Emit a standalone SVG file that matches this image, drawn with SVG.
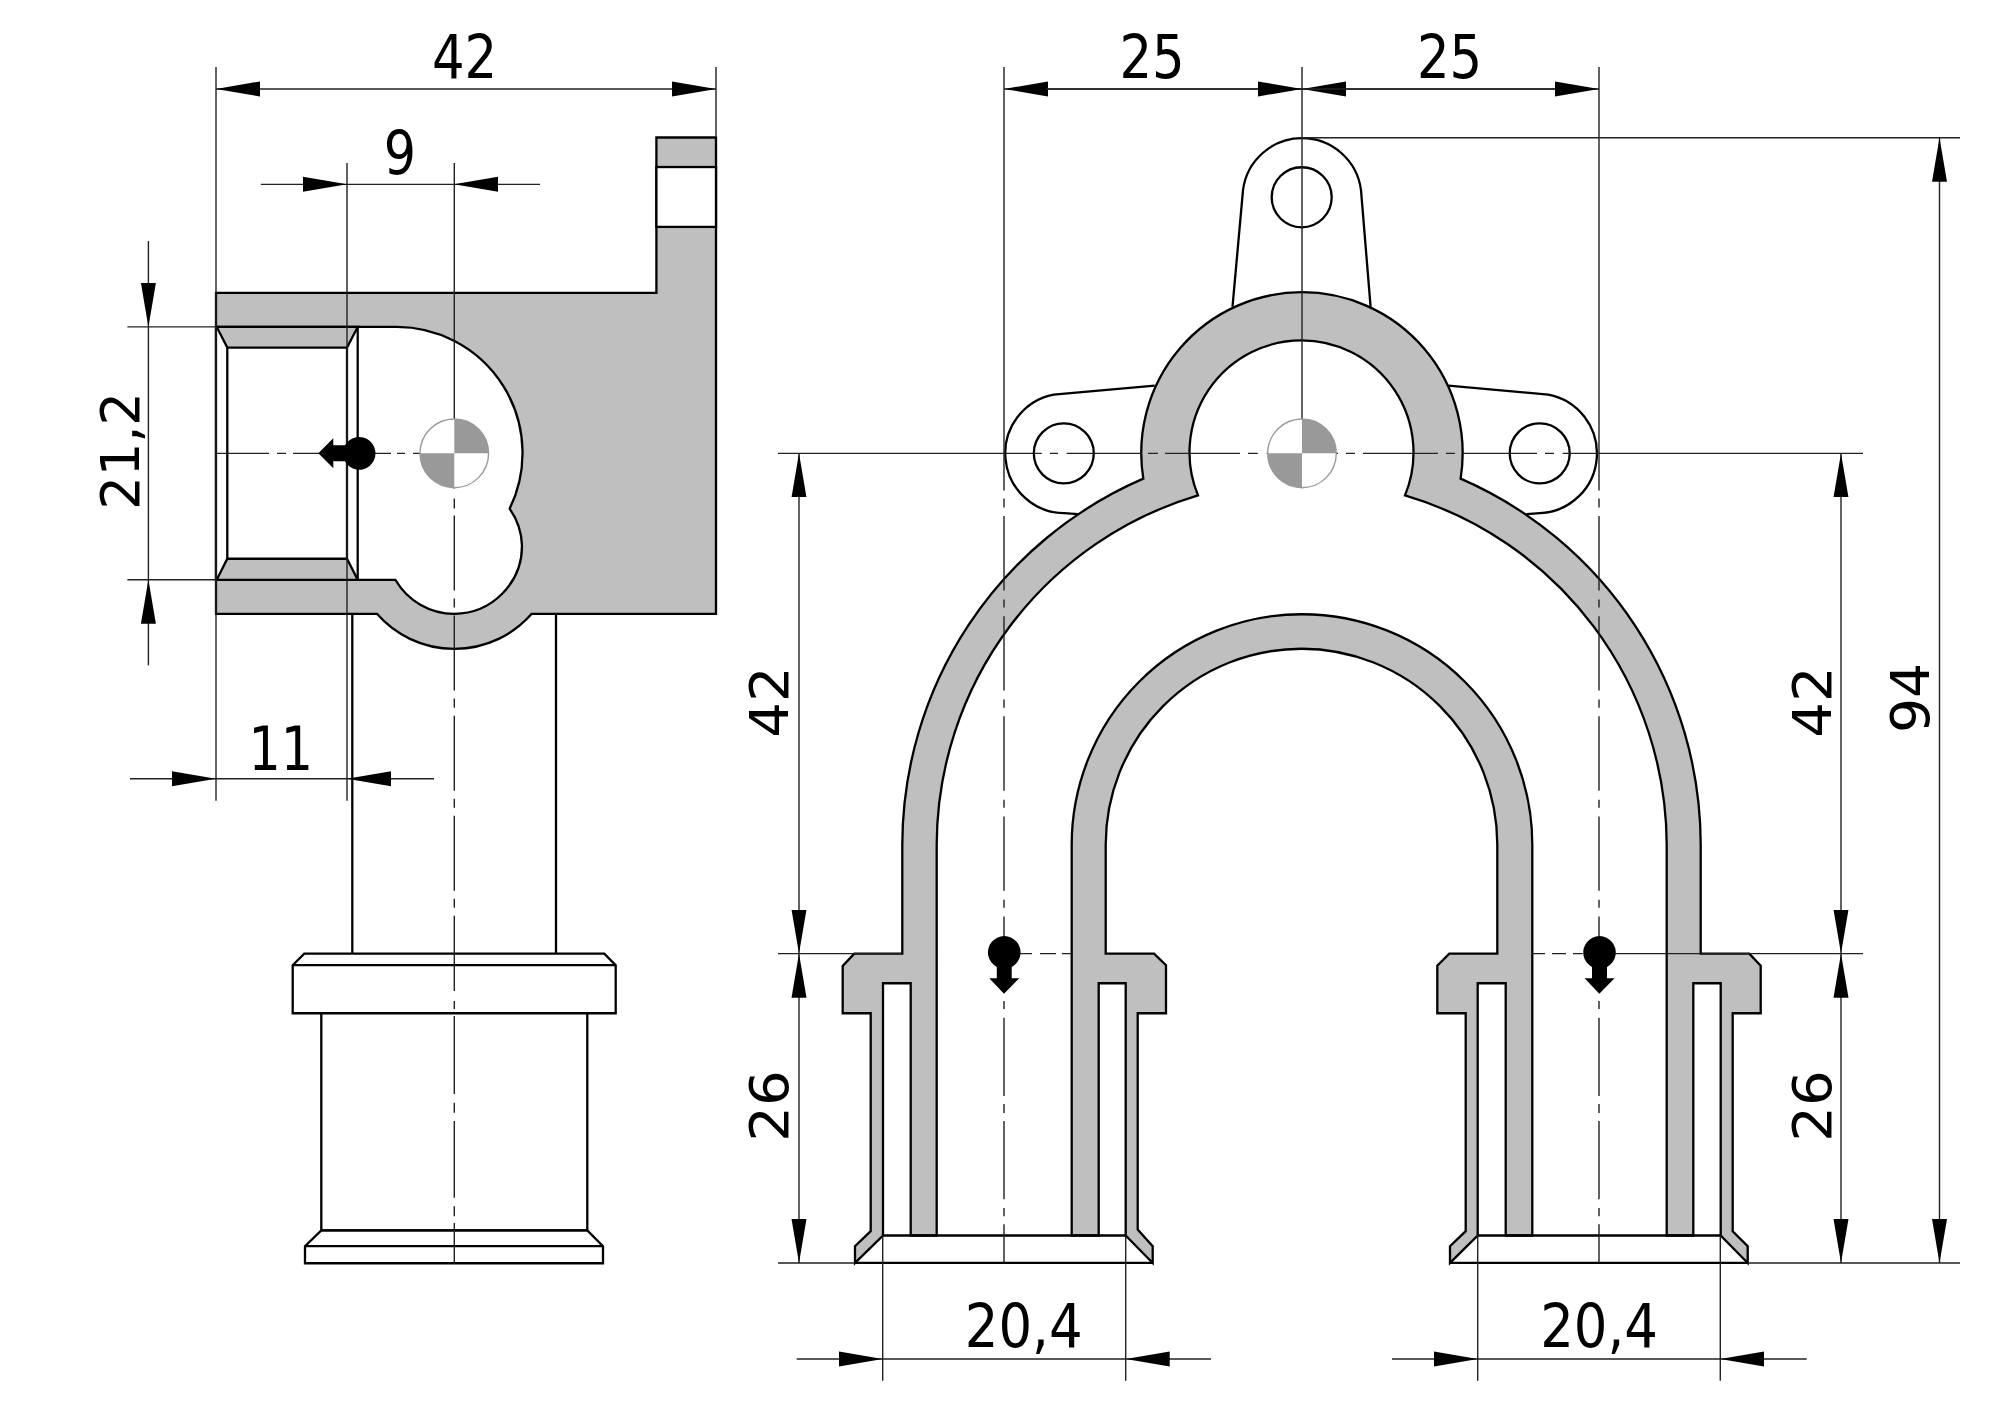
<svg xmlns="http://www.w3.org/2000/svg" width="2000" height="1414" viewBox="0 0 2000 1414">
<style>
.o{fill:none;stroke:#000;stroke-width:2.3;stroke-linejoin:miter}
.g{fill:#bfbfbf;stroke:#000;stroke-width:2.3;stroke-linejoin:miter}
.w{fill:#fff;stroke:#000;stroke-width:2.3;stroke-linejoin:miter}
.t{fill:none;stroke:#222;stroke-width:1.4}
.a{fill:none;stroke:#222;stroke-width:1.4;marker-end:url(#ar)}
.b{fill:none;stroke:#222;stroke-width:1.4;marker-start:url(#ar);marker-end:url(#ar)}
.c{fill:#fff;stroke:#999;stroke-width:1.4}
.q{fill:#999}
.k{fill:#000}
text{font-family:"DejaVu Sans Condensed","DejaVu Sans",sans-serif;font-stretch:condensed;font-size:60px;fill:#000;text-anchor:middle}
</style>
<defs>
<marker id="ar" markerUnits="userSpaceOnUse" markerWidth="46" markerHeight="18" refX="44" refY="8" orient="auto-start-reverse"><path d="M0,0.5 L44,8 L0,15.5 Z" fill="#000"/></marker>
<g id="cog"><circle class="c" cx="0" cy="0" r="34.3"/><path class="q" d="M0,0 V-34.3 A34.3,34.3 0 0 1 34.3,0 Z M0,0 V34.3 A34.3,34.3 0 0 1 -34.3,0 Z"/></g>
</defs>
<rect width="2000" height="1414" fill="#fff"/>
<g id="drawing" transform="translate(0,-0.15) scale(1,1.0011)">

<g id="side-view">
<path class="o" d="M352.3,613.3 V952.7 M556,613.3 V952.7"/>
<path class="g" d="M216,292.7 H656.4 V137.5 H716 V613.3 H531.7 A103,103 0 0 1 376.9,613.3 H216 Z"/>
<rect class="w" x="656.4" y="167" width="59.6" height="59.8"/>
<path class="w" d="M216,326.7 H396.7 A126,126 0 0 1 509.6,508.3 A68,68 0 0 1 522,545.3 A68,68 0 0 1 454.3,613.3 A68,68 0 0 1 395.4,579.3 H216 Z"/>
<path class="g" d="M216.7,326.7 H357.7 L347,347.3 H227.3 Z M227.3,558.3 H347 L357.7,579.3 H216.7 Z"/>
<path class="o" d="M227.3,347.3 V558.3 M347,347.3 V558.3 M357.7,326.7 V579.3"/>
<path class="w" d="M304.3,952.7 H604.3 L615.7,964.3 V1012.3 H292.7 V964.3 Z"/>
<path class="o" d="M292.7,964.3 H615.7"/>
<path class="w" d="M321.3,1012.3 H587.3 V1229.3 H321.3 Z"/>
<path class="w" d="M321.3,1229.3 H587.3 L603,1245 V1262 H305 V1245 Z"/>
<path class="o" d="M305,1245 H603"/>
</g>

<g id="front-view">
<g id="lugs">
<path class="w" d="M1232.5,306.7 L1243,190 A59.5,59.5 0 0 1 1361,190 L1370.6,306.7"/>
<circle class="o" cx="1301.7" cy="197.2" r="30"/>
<path class="w" d="M1154.7,385.3 L1053.7,394.3 A59.8,59.8 0 0 0 1064,512.8 L1078,513.7"/>
<circle class="o" cx="1063.8" cy="453" r="30"/>
<path class="w" d="M1448.5,385.3 L1548.2,394.3 A59.8,59.8 0 0 1 1540,512.8 L1526.3,513.7"/>
<circle class="o" cx="1539.7" cy="453" r="30"/>
</g>
<path id="outer-arch" class="g" d="M854.3,952.7 L842.7,965 V1012.3 H870.7 V1230 L855,1245 V1261.7 L883,1234.3 V982.3 H910.7 V1234.3 H936.7 V844 A365,365 0 0 1 1198,495 A112,112 0 1 1 1405,495 A365,365 0 0 1 1666.7,844 V1234.3 H1693.3 V982.3 H1720.7 V1234.3 L1747.7,1261.7 V1245 L1732.7,1230 V1012.3 H1760.7 V964.7 L1749.3,952.7 H1700.7 V844 A399,399 0 0 0 1460.6,478.3 A160.7,160.7 0 1 0 1143.3,478.3 A399,399 0 0 0 902.3,844 V952.7 Z"/>
<path id="inner-arch" class="g" d="M1154,952.7 L1166,964.3 V1012.3 H1137.7 V1228.3 L1152.7,1245 V1261.7 L1125.7,1234.3 V982.3 H1098.7 V1234.3 H1071.7 V844 A230.3,230.3 0 0 1 1532.3,844 V1234.3 H1505.7 V982.3 H1477.7 V1234.3 L1450,1261.7 V1245 L1465.7,1230 V1012.3 H1437.3 V964.7 L1449.3,952.7 H1497.3 V844 A195.6,195.6 0 0 0 1105.7,844 V952.7 Z"/>
<path class="o" d="M883,1234.3 H1125.7 M855,1261.7 H1152.7 M1477.7,1234.3 H1720.7 M1450,1261.7 H1747.7"/>
</g>

<g id="connectors">
<path class="t" d="M216,67 V800 M716,67 V137.5 M347,163 V800 M127.4,326.7 H216 M127.4,579.3 H216"/>
<path class="b" d="M216,89 H716"/>
<path class="t" d="M347,184.3 H454"/>
<path class="a" d="M260.8,184.3 H347"/>
<path class="a" d="M540,184.3 H454"/>
<path class="t" d="M148.4,326.7 V579.3"/>
<path class="a" d="M148.4,241 V326.7"/>
<path class="a" d="M148.4,664.8 V579.3"/>
<path class="t" d="M216,778 H347"/>
<path class="a" d="M130,778 H216"/>
<path class="a" d="M434,778 H347"/>
<path class="t" d="M454.3,163 V488 M454.3,498 V508 M454.3,515 V590 M454.3,598 V607 M454.3,615 V690 M454.3,698 V707 M454.3,715 V790 M454.3,798 V807 M454.3,815 V890 M454.3,898 V907 M454.3,915 V990 M454.3,1000 V1008 M454.3,1015 V1093 M454.3,1101.7 V1111.7 M454.3,1120 V1196.7 M454.3,1205 V1215 M454.3,1221.7 V1262"/>
<path class="t" d="M216,453 H269 M277,453 H286 M293,453 H391 M397,453 H405 M413,453 H454"/>

<path class="t" d="M1004,67 V490 M1004,498 V507 M1004,515.7 V590 M1004,599 V607 M1004,615.7 V690 M1004,699 V707 M1004,715.7 V790 M1004,799 V807 M1004,815.7 V890 M1004,899 V907 M1004,915.7 V950 M1004,1000 V1008 M1004,1016.7 V1095 M1004,1103 V1112 M1004,1120 V1198 M1004,1206.7 V1215 M1004,1223 V1261.7"/>
<path class="t" d="M1599,67 V490 M1599,498 V507 M1599,515.7 V590 M1599,599 V607 M1599,615.7 V690 M1599,699 V707 M1599,715.7 V790 M1599,799 V807 M1599,815.7 V890 M1599,899 V907 M1599,915.7 V950 M1599,1000 V1008 M1599,1016.7 V1095 M1599,1103 V1112 M1599,1120 V1198 M1599,1206.7 V1215 M1599,1223 V1261.7"/>
<path class="t" d="M1302,67 V453"/>
<path class="t" d="M778,453 H1041.7 M1050,453 H1058 M1066.7,453 H1141.7 M1148,453 H1158 M1165,453 H1240 M1248,453 H1257.7 M1266.7,453 H1338 M1346,453 H1355 M1363,453 H1438 M1446,453 H1455 M1463,453 H1537 M1545,453 H1554 M1562.7,453 H1863"/>
<path class="t" d="M778,952.7 H902.3 M1020,952.7 H1032 M1040,952.7 H1056 M1062,952.7 H1071.7 M1531.7,952.7 H1545 M1552,952.7 H1566 M1573,952.7 H1582.7 M1615,952.7 H1863 M778,1261.7 H855 M1747.7,1261.7 H1960 M1302,137.7 H1960"/>
<path class="t" d="M882.7,1234.3 V1379.3 M1125.7,1234.3 V1379.3 M1477.7,1234.3 V1379.3 M1720.3,1234.3 V1379.3"/>
<path class="a" d="M1302,89 H1004"/>
<path class="a" d="M1046,89 H1302"/>
<path class="a" d="M1560,89 H1302"/>
<path class="a" d="M1302,89 H1599"/>
<path class="b" d="M799,453 V952.7"/>
<path class="b" d="M799,952.7 V1261.7"/>
<path class="b" d="M1841,453 V952.7"/>
<path class="b" d="M1841,952.7 V1261.7"/>
<path class="b" d="M1939.5,137.7 V1261.7"/>
<path class="t" d="M882.7,1357.7 H1125.7 M1477.7,1357.7 H1720.3"/>
<path class="a" d="M796.7,1357.7 H882.7"/>
<path class="a" d="M1211,1357.7 H1125.7"/>
<path class="a" d="M1392,1357.7 H1477.7"/>
<path class="a" d="M1806.7,1357.7 H1720.3"/>
</g>

<g id="centre-marks">
<use href="#cog" x="454.3" y="453"/>
<use href="#cog" x="1302" y="453"/>
<path id="load-side" class="k" d="M318.3,453 L333.3,438 V445 H345 A16.3,16.3 0 1 1 345,461 H333.3 V468 Z"/>
<path id="load-left" class="k" d="M1004,992.7 L1019.3,977.3 H1011.7 V966 A16.3,16.3 0 1 0 996.8,966 V977.3 H989.3 Z"/>
<path id="load-right" class="k" d="M1599.3,992.7 L1614.6,977.3 H1607 V966 A16.3,16.3 0 1 0 1592,966 V977.3 H1584.6 Z"/>
</g>
</g>

<g id="labels">
<text transform="translate(464.5,78) scale(.95,1)">42</text>
<text transform="translate(400,173.5) scale(.94,1)">9</text>
<text transform="translate(280.7,769.5) scale(.94,1)">11</text>
<text transform="translate(138.7,451) rotate(-90) scale(.98,.875)">21,2</text>
<text transform="translate(1152,78) scale(.95,1)">25</text>
<text transform="translate(1449.5,78) scale(.95,1)">25</text>
<text transform="translate(788.3,702) rotate(-90) scale(1.04,.875)">42</text>
<text transform="translate(788.3,1106) rotate(-90) scale(1.04,.875)">26</text>
<text transform="translate(1830.5,702) rotate(-90) scale(1.04,.875)">42</text>
<text transform="translate(1830.5,1106) rotate(-90) scale(1.04,.875)">26</text>
<text transform="translate(1928.8,698) rotate(-90) scale(1.02,.875)">94</text>
<text transform="translate(1023.7,1347) scale(.98,1)">20,4</text>
<text transform="translate(1599,1347) scale(.98,1)">20,4</text>
</g>
</svg>
